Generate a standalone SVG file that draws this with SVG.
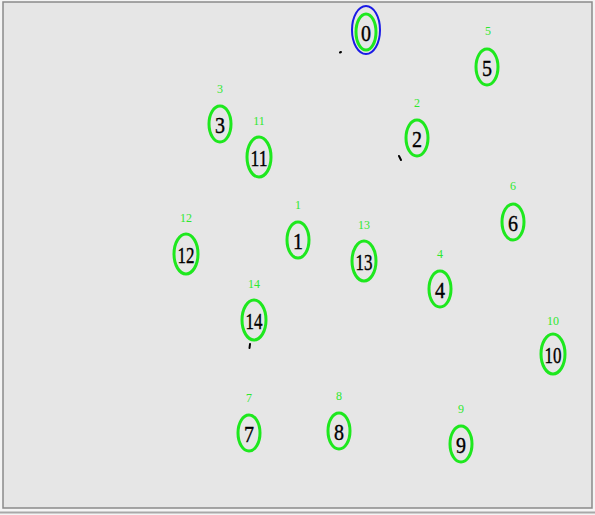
<svg xmlns="http://www.w3.org/2000/svg" width="595" height="515" viewBox="0 0 595 515">
<style>
.n ellipse{fill:none;stroke:#1ee81e;stroke-width:3}
.n text.d{font-family:"Liberation Serif",serif;font-size:24px;fill:#000;text-anchor:middle;stroke:#000;stroke-width:0.4}
.n text.l{font-family:"Liberation Serif",serif;font-size:12px;fill:#2ee82e;text-anchor:middle}
.m{stroke:#000;stroke-width:2;fill:none;stroke-linecap:round}
</style>
<rect x="0" y="0" width="595" height="515" fill="#f4f4f4"/>
<rect x="3" y="2" width="589" height="506" fill="#e6e6e6" stroke="#8a8a8a" stroke-width="1.5"/>
<line x1="0" y1="512.5" x2="595" y2="512.5" stroke="#a8a8a8" stroke-width="2"/>
<g id="connectors">
<path class="m" d="M340 52.5 l1 -0.5"/>
<path class="m" d="M399 156 l2 4"/>
<path class="m" d="M250 344 l-0.5 4"/>
</g>
<g id="node0" class="n"><ellipse cx="366" cy="30" rx="14" ry="24" style="stroke:#1a1ae6;stroke-width:2"/><ellipse cx="366" cy="32" rx="10" ry="18"/><text class="d" x="366" y="41" textLength="10" lengthAdjust="spacingAndGlyphs">0</text></g>
<g id="node5" class="n"><text class="l" x="488" y="35">5</text><ellipse cx="487" cy="67" rx="11" ry="18"/><text class="d" x="487" y="76" textLength="10" lengthAdjust="spacingAndGlyphs">5</text></g>
<g id="node3" class="n"><text class="l" x="220" y="93">3</text><ellipse cx="220" cy="124" rx="11" ry="18"/><text class="d" x="220" y="133" textLength="10" lengthAdjust="spacingAndGlyphs">3</text></g>
<g id="node11" class="n"><text class="l" x="259" y="125">11</text><ellipse cx="259" cy="157" rx="12" ry="20"/><text class="d" x="259" y="166" textLength="17" lengthAdjust="spacingAndGlyphs">11</text></g>
<g id="node2" class="n"><text class="l" x="417" y="107">2</text><ellipse cx="417" cy="138" rx="11" ry="18"/><text class="d" x="417" y="147" textLength="10" lengthAdjust="spacingAndGlyphs">2</text></g>
<g id="node6" class="n"><text class="l" x="513" y="190">6</text><ellipse cx="513" cy="222" rx="11" ry="18"/><text class="d" x="513" y="231" textLength="10" lengthAdjust="spacingAndGlyphs">6</text></g>
<g id="node12" class="n"><text class="l" x="186" y="222">12</text><ellipse cx="186" cy="254" rx="12" ry="20"/><text class="d" x="186" y="263" textLength="17" lengthAdjust="spacingAndGlyphs">12</text></g>
<g id="node1" class="n"><text class="l" x="298" y="209">1</text><ellipse cx="298" cy="240" rx="11" ry="18"/><text class="d" x="298" y="249" textLength="10" lengthAdjust="spacingAndGlyphs">1</text></g>
<g id="node13" class="n"><text class="l" x="364" y="229">13</text><ellipse cx="364" cy="261" rx="12" ry="20"/><text class="d" x="364" y="270" textLength="17" lengthAdjust="spacingAndGlyphs">13</text></g>
<g id="node4" class="n"><text class="l" x="440" y="258">4</text><ellipse cx="440" cy="289" rx="11" ry="18"/><text class="d" x="440" y="298" textLength="10" lengthAdjust="spacingAndGlyphs">4</text></g>
<g id="node14" class="n"><text class="l" x="254" y="288">14</text><ellipse cx="254" cy="320" rx="12" ry="20"/><text class="d" x="254" y="329" textLength="17" lengthAdjust="spacingAndGlyphs">14</text></g>
<g id="node10" class="n"><text class="l" x="553" y="325">10</text><ellipse cx="553" cy="354" rx="12" ry="20"/><text class="d" x="553" y="363" textLength="17" lengthAdjust="spacingAndGlyphs">10</text></g>
<g id="node7" class="n"><text class="l" x="249" y="402">7</text><ellipse cx="249" cy="433" rx="11" ry="18"/><text class="d" x="249" y="442" textLength="10" lengthAdjust="spacingAndGlyphs">7</text></g>
<g id="node8" class="n"><text class="l" x="339" y="400">8</text><ellipse cx="339" cy="431" rx="11" ry="18"/><text class="d" x="339" y="440" textLength="10" lengthAdjust="spacingAndGlyphs">8</text></g>
<g id="node9" class="n"><text class="l" x="461" y="413">9</text><ellipse cx="461" cy="444" rx="11" ry="18"/><text class="d" x="461" y="453" textLength="10" lengthAdjust="spacingAndGlyphs">9</text></g>
</svg>
